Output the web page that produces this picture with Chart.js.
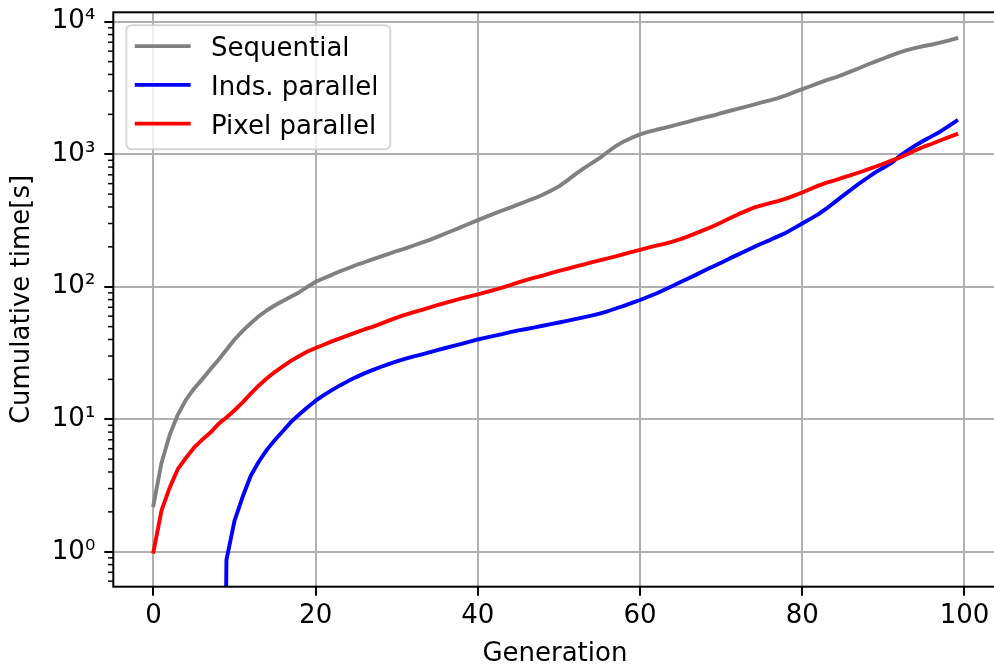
<!DOCTYPE html>
<html>
<head>
<meta charset="utf-8">
<title>Cumulative time per generation</title>
<script src="https://cdn.jsdelivr.net/npm/chart.js@4.4.0/dist/chart.umd.min.js"></script>
<style>
  html, body { margin: 0; padding: 0; background: #fff; overflow: hidden; }
  canvas { display: block; }
</style>
</head>
<body>
<canvas id="chart-tiempos" width="1000" height="666"></canvas>
<script>
// Cumulative run time of the three implementations, one value per generation

const gens = Array.from({ length: 100 }, (_, i) => i);

const sequential = [
  2.25, 4.7, 7.6, 10.8, 14, 17, 20, 23.7, 28, 33.5,
  40, 46.5, 53, 60, 66.5, 72.5, 78.5, 84.5, 91, 100,
  109, 116, 123, 131, 138, 146, 153, 161, 169, 177,
  186, 194, 204, 214, 225, 238, 252, 267, 283, 300,
  318, 337, 356, 376, 396, 418, 442, 466, 495, 530,
  572, 632, 705, 778, 853, 935, 1040, 1150, 1250, 1334,
  1413, 1475, 1530, 1580, 1640, 1700, 1760, 1830, 1900, 1960,
  2040, 2120, 2200, 2280, 2370, 2460, 2550, 2650, 2780, 2940,
  3100, 3260, 3440, 3620, 3780, 3990, 4220, 4460, 4730, 5000,
  5280, 5570, 5870, 6120, 6350, 6560, 6730, 6950, 7200, 7490
];

// 0 = nothing accumulated yet
const indsParallel = [
  0, 0, 0, 0, 0, 0, 0, 0, 0, 0.87,
  1.72, 2.6, 3.75, 4.8, 5.9, 7.0, 8.2, 9.6, 10.9, 12.3,
  13.8, 15.2, 16.6, 18, 19.4, 20.8, 22.2, 23.5, 24.8, 26.1,
  27.3, 28.5, 29.7, 30.8, 32, 33.3, 34.5, 35.8, 37.1, 38.5,
  40, 41.3, 42.6, 43.9, 45.4, 46.8, 48, 49.3, 50.8, 52.3,
  53.7, 55.3, 56.9, 58.7, 60.6, 62.8, 65.3, 68.5, 71.8, 75.6,
  79.4, 84, 89, 95, 101.5, 108.5, 116, 124, 133, 142,
  152, 163, 174, 186, 199, 212, 225, 240, 256, 277,
  300, 325, 353, 390, 435, 485, 540, 600, 662, 730,
  790, 860, 970, 1070, 1170, 1270, 1370, 1480, 1620, 1780
];

const pixelParallel = [
  1.0, 2.05, 3.05, 4.2, 5.1, 6.1, 7.0, 7.9, 9.2, 10.3,
  11.7, 13.4, 15.6, 18.0, 20.4, 22.8, 25.2, 27.7, 30, 32.5,
  34.5, 36.5, 38.7, 40.8, 43, 45.3, 47.6, 49.8, 52.5, 55.5,
  58.5, 61.4, 64, 66.7, 69.6, 72.6, 75.6, 78.6, 81.6, 84.6,
  87.6, 91, 94.5, 98.5, 103, 108, 112.5, 117, 121.5, 126.5,
  131.5, 136.5, 142, 147, 152.5, 158, 163.5, 169.5, 176, 183,
  190, 197, 204, 211, 219, 229, 241, 255, 270, 286,
  306, 327, 350, 372, 395, 412, 427, 443, 462, 487,
  514, 547, 580, 610, 635, 665, 695, 728, 765, 805,
  845, 895, 944, 1005, 1075, 1140, 1200, 1270, 1340, 1415
];

const xTicks = [0, 20, 40, 60, 80, 100];
const yMajorTicks = [1, 10, 100, 1000, 10000];
const yTickLabels = ['10⁰', '10¹', '10²', '10³', '10⁴'];

const X_MIN = -4.95, X_MAX = 103.95;
const Y_MIN = 0.545, Y_MAX = 11780;

const FONT = { family: "'DejaVu Sans', sans-serif", size: 26 };
const GRID = '#b0b0b0';

// zero has no place on a log axis: park it far below the visible range so
// the line climbs straight out of the bottom edge
const LOG_FLOOR = 1e-6;
const toPoints = vals => gens.map((g, i) => ({ x: g, y: vals[i] > 0 ? vals[i] : LOG_FLOOR }));

function isMajor(v) {
  const e = Math.log10(v);
  return Math.abs(e - Math.round(e)) < 1e-9;
}

// 1..9 x 10^n inside the axis range
function logTickValues() {
  const out = [];
  for (let e = -1; e <= 4; e++) {
    for (let k = 1; k <= 9; k++) {
      const v = k * Math.pow(10, e);
      if (v >= Y_MIN && v <= Y_MAX) out.push(v);
    }
  }
  return out;
}

// minor ticks, frame and the legend box inside the plot
const frameAndLegend = {
  id: 'frameAndLegend',
  afterDatasetsDraw(chart) {
    const { ctx, chartArea: a, scales: { y } } = chart;
    ctx.save();

    ctx.strokeStyle = '#000';
    ctx.lineWidth = 1.5;
    y.ticks.forEach(t => {
      if (isMajor(t.value)) return;
      const py = y.getPixelForValue(t.value);
      ctx.beginPath();
      ctx.moveTo(a.left, py);
      ctx.lineTo(a.left - 5.2, py);
      ctx.stroke();
    });

    ctx.lineWidth = 2;
    ctx.strokeRect(a.left, a.top, a.right - a.left, a.bottom - a.top);

    const fs = FONT.size;
    const pad = 0.4 * fs, handleLen = 2 * fs, gap = 0.8 * fs, rowH = 1.49 * fs;
    const sets = chart.data.datasets;
    ctx.font = `${fs}px ${FONT.family}`;
    const textW = Math.max(...sets.map(d => ctx.measureText(d.label).width));
    const x0 = a.left + 0.5 * fs, y0 = a.top + 0.5 * fs;
    const w = pad + handleLen + gap + textW + pad + 3;
    const h = pad + sets.length * rowH - 0.5 * fs + pad;

    ctx.beginPath();
    ctx.roundRect(x0, y0, w, h, 0.2 * fs);
    ctx.fillStyle = 'rgba(255,255,255,0.8)';
    ctx.fill();
    ctx.strokeStyle = 'rgba(204,204,204,0.8)';
    ctx.lineWidth = 2;
    ctx.stroke();

    ctx.textAlign = 'left';
    ctx.textBaseline = 'alphabetic';
    sets.forEach((d, i) => {
      const cy = y0 + pad + 0.4 * fs + i * rowH;
      ctx.beginPath();
      ctx.moveTo(x0 + pad, cy);
      ctx.lineTo(x0 + pad + handleLen, cy);
      ctx.strokeStyle = d.borderColor;
      ctx.lineWidth = d.borderWidth;
      ctx.lineCap = 'square';
      ctx.stroke();
      ctx.fillStyle = '#000';
      ctx.fillText(d.label, x0 + pad + handleLen + gap + 1.5, cy + 0.385 * fs);
    });

    ctx.restore();
  }
};

const line = (label, color, vals, order) => ({
  label,
  data: toPoints(vals),
  borderColor: color,
  backgroundColor: color,
  borderWidth: 3.9,
  borderJoinStyle: 'round',
  borderCapStyle: 'square',
  pointRadius: 0,
  tension: 0,
  fill: false,
  clip: 0,
  order
});

new Chart(document.getElementById('chart-tiempos'), {
  type: 'line',
  data: {
    datasets: [
      line('Sequential', '#808080', sequential, 3),
      line('Inds. parallel', '#0000ff', indsParallel, 2),
      line('Pixel parallel', '#ff0000', pixelParallel, 1)
    ]
  },
  options: {
    responsive: false,
    animation: false,
    devicePixelRatio: 1,
    layout: { padding: { left: 0, top: 12.3, right: 3.5, bottom: 0 } },
    plugins: { legend: { display: false }, tooltip: { enabled: false } },
    scales: {
      x: {
        type: 'linear',
        min: X_MIN,
        max: X_MAX,
        afterBuildTicks: s => { s.ticks = xTicks.map(v => ({ value: v })); },
        afterFit: s => { s.height = 79.3; s.paddingLeft = 0; s.paddingRight = 0; },
        border: { display: false },
        grid: { color: GRID, lineWidth: 2, tickLength: 9, tickColor: '#000', tickWidth: 2 },
        ticks: { color: '#000', font: FONT, padding: 4.5, maxRotation: 0, autoSkip: false },
        title: {
          display: true, text: 'Generation', color: '#000',
          font: { ...FONT, lineHeight: 1 }, padding: { top: 0, bottom: -1 }
        }
      },
      y: {
        type: 'logarithmic',
        min: Y_MIN,
        max: Y_MAX,
        bounds: 'data',
        afterBuildTicks: s => { s.ticks = logTickValues().map(v => ({ value: v })); },
        afterFit: s => { s.width = 113.3; s.paddingTop = 0; s.paddingBottom = 0; },
        border: { display: false },
        grid: {
          color: c => (c.tick && isMajor(c.tick.value) ? GRID : 'rgba(0,0,0,0)'),
          tickColor: c => (c.tick && isMajor(c.tick.value) ? '#000' : 'rgba(0,0,0,0)'),
          lineWidth: 2, tickLength: 9, tickWidth: 2
        },
        ticks: {
          color: '#000', font: FONT, padding: 9, autoSkip: false,
          callback: v => {
            const i = yMajorTicks.indexOf(v);
            return i >= 0 ? yTickLabels[i] : '';
          }
        },
        title: {
          display: true, text: 'Cumulative time[s]', color: '#000',
          font: { ...FONT, lineHeight: 1 }, padding: { top: 9, bottom: 0 }
        }
      }
    }
  },
  plugins: [frameAndLegend]
});
</script>
</body>
</html>
